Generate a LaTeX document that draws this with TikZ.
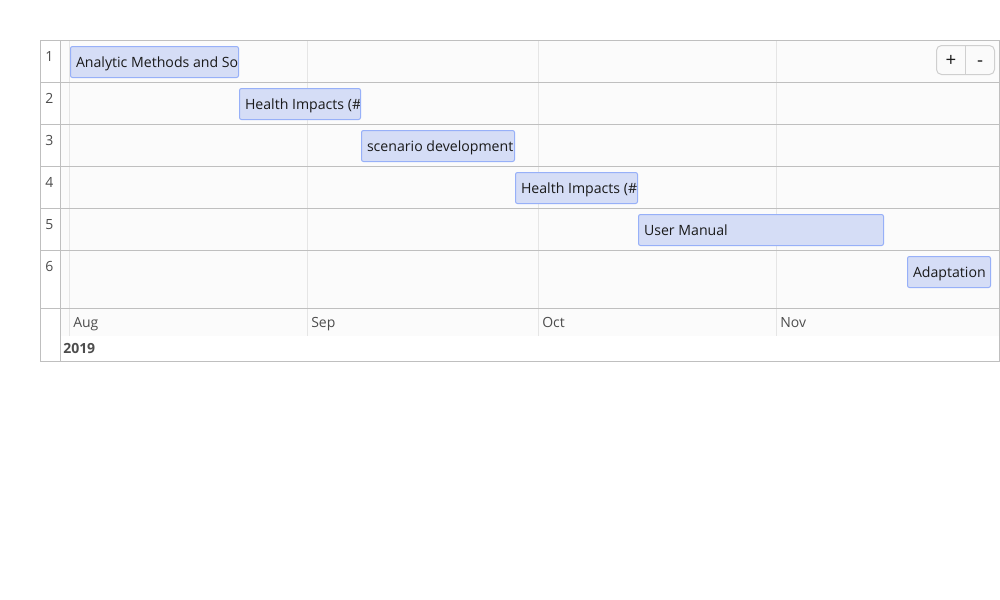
\documentclass[tikz,border=0pt]{standalone}
\usepackage{fontspec}
\setmainfont{Open Sans}
\newdimen\pxu \pxu=0.75pt
\definecolor{frame}{HTML}{BFBFBF}
\definecolor{minorgrid}{HTML}{E5E5E5}
\definecolor{panel}{HTML}{FBFBFB}
\definecolor{barfill}{HTML}{D5DDF6}
\definecolor{barline}{HTML}{97B0F8}
\definecolor{bartext}{HTML}{1A1A1A}
\definecolor{axistext}{HTML}{4D4D4D}
\definecolor{btnfill}{HTML}{FAFAFA}
\definecolor{btnline}{HTML}{CFCFCF}
\tikzset{
  bar/.style={draw=barline, fill=barfill, line width=1\pxu, rounded corners=2\pxu,
    anchor=north west, inner sep=0pt, minimum height=31*\pxu, minimum width=#1*\pxu,
    outer sep=0pt},
  bartitle/.style={path picture={\node[anchor=base west, inner sep=0pt, text=bartext,
    minimum width=0pt, minimum height=0pt, draw=none, fill=none, sharp corners,
    font=\fontsize{10.6}{12}\selectfont]
    at ([xshift=5.5*\pxu, yshift=-20.8*\pxu]path picture bounding box.north west) {#1};}},
  rowlabel/.style={text=axistext, font=\fontsize{10.5}{12}\selectfont, inner sep=0pt, anchor=base},
  monthlabel/.style={text=axistext, font=\fontsize{10.5}{12}\selectfont, inner sep=0pt, anchor=base west},
  yearlabel/.style={text=axistext, font=\bfseries\fontsize{10.5}{12}\selectfont, inner sep=0pt, anchor=base west},
  framerule/.style={draw=frame, line width=1\pxu},
  gridrule/.style={draw=minorgrid, line width=1\pxu},
  btn/.style={font=\fontsize{14}{16}\selectfont, text=bartext, inner sep=0pt, anchor=base}
}
\begin{document}
\begin{tikzpicture}[x=0.75pt, y=-0.75pt]
\useasboundingbox (0,0) rectangle (1000,600);
\fill[white] (0,0) rectangle (1000,600);

% item panel and the lighter strip of month labels
\fill[panel] (60,40) rectangle (999,336);

% month grid lines
\foreach \gx in {69.5,307.5,538.5,776.5}
  \draw[gridrule] (\gx,40) -- (\gx,336);

% row separators
\foreach \ry in {82.5,124.5,166.5,208.5,250.5,308.5}
  \draw[framerule] (40,\ry) -- (999,\ry);

% label column and outer frame
\draw[framerule] (60.5,40) -- (60.5,361);
\draw[framerule] (40.5,40.5) rectangle (999.5,361.5);

% row labels
\node[rowlabel] (r1) at (49.5,61.5) {1};
\node[rowlabel] (r2) at (49.5,103.5) {2};
\node[rowlabel] (r3) at (49.5,145.5) {3};
\node[rowlabel] (r4) at (49.5,187.5) {4};
\node[rowlabel] (r5) at (49.5,229.5) {5};
\node[rowlabel] (r6) at (49.5,271.5) {6};

% task bars
\node[bar=168, bartitle={Analytic Methods and Software}] (b1) at (70.5,46.5) {};
\node[bar=121, bartitle={Health Impacts (\#1)}] (b2) at (239.5,88.5) {};
\node[bar=153, bartitle={scenario development}] (b3) at (361.5,130.5) {};
\node[bar=122, bartitle={Health Impacts (\#2)}] (b4) at (515.5,172.5) {};
\node[bar=245, bartitle={User Manual}] (b5) at (638.5,214.5) {};
\node[bar=83, bartitle={Adaptation}] (b6) at (907.5,256.5) {};

% time axis
\node[monthlabel] (m1) at (73,327) {Aug};
\node[monthlabel] (m2) at (311,327) {Sep};
\node[monthlabel] (m3) at (542,327) {Oct};
\node[monthlabel] (m4) at (780,327) {Nov};
\node[yearlabel] (y1) at (63,353) {2019};

% zoom buttons
\draw[draw=btnline, fill=btnfill, line width=1\pxu, rounded corners=5\pxu]
  (936.5,45.5) rectangle (994.5,74.5);
\draw[draw=btnline, line width=1\pxu] (965.5,45.5) -- (965.5,74.5);
\node[btn] (zin) at (951,66) {+};
\node[btn] (zout) at (980,66) {-};
\end{tikzpicture}
\end{document}
